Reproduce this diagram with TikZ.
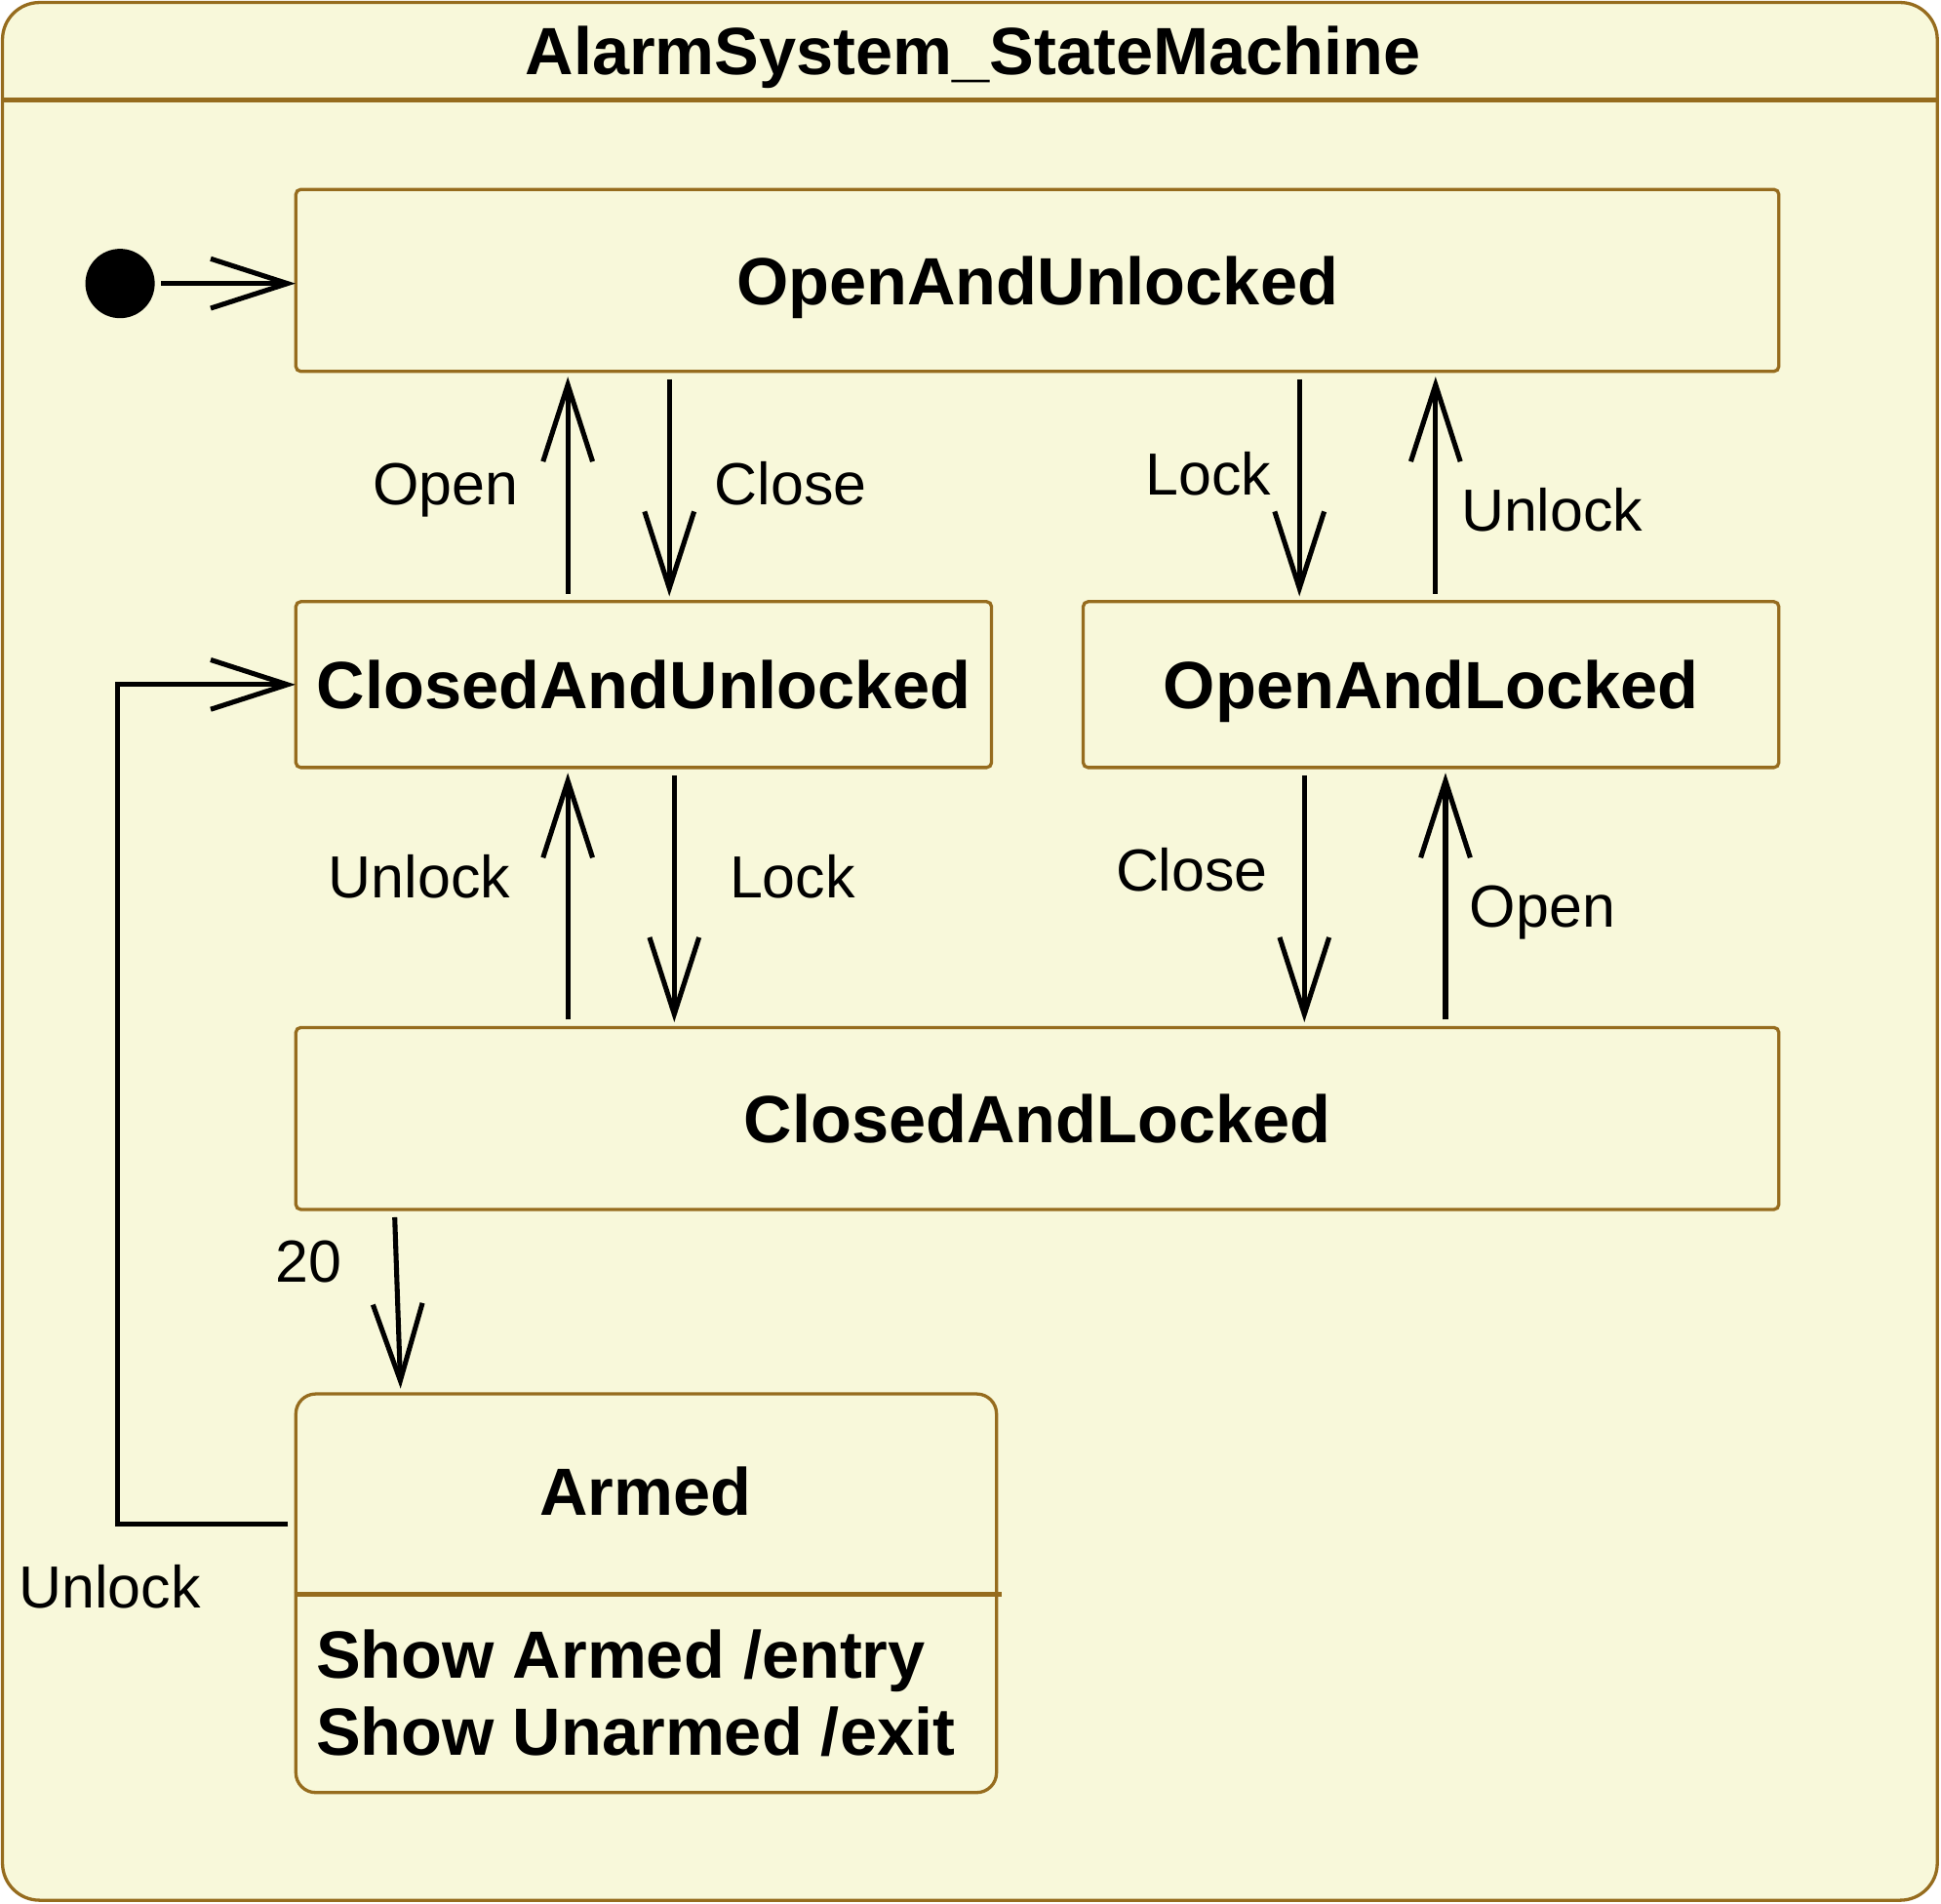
\documentclass[tikz,border=0pt]{standalone}
\usepackage{fontspec}
\setmainfont{Liberation Sans}
\usetikzlibrary{positioning,arrows.meta}
\definecolor{statefill}{RGB}{248,248,218}
\definecolor{stateline}{RGB}{150,108,30}
\tikzset{
  frame/.style = {rectangle, draw=stateline, fill=statefill,
                  line width=1.3pt, rounded corners=15pt},
  state/.style = {rectangle, draw=stateline, fill=statefill,
                  line width=1.3pt, rounded corners=2pt, inner sep=0pt,
                  font=\fontsize{27}{31}\selectfont\bfseries,
                  text height=19.4pt, text depth=0pt},
  title/.style = {font=\fontsize{27}{31}\selectfont\bfseries,
                  anchor=base, inner sep=0pt},
  tr/.style    = {-{Straight Barb[length=31pt,width=20pt]}, line width=2pt,
                  shorten <=2.5pt, shorten >=1.5pt},
  lbl/.style   = {font=\fontsize{24}{28}\selectfont, anchor=base west, inner sep=0pt}
}

\begin{document}
\begin{tikzpicture}[x=0.5pt, y=-0.5pt]
  \useasboundingbox (0,0) rectangle (1568,1538);
  % state machine frame
  \node[frame, minimum width=781.5pt, minimum height=766.5pt] (sm) at (783.5,768.5) {};
  \draw[stateline, line width=1.8pt] ([yshift=-40pt]sm.north west) -- ([yshift=-40pt]sm.north east);
  \node[title] (smname) at (786,60) {AlarmSystem\_StateMachine};

  % states
  \node[circle, fill=black, minimum size=28pt, inner sep=0pt] (init) at (97,229) {};
  \node[state, minimum width=599pt, minimum height=73.5pt] (oau) at (838,226.5) {OpenAndUnlocked};
  \node[state, minimum width=281pt, minimum height=67pt] (cau) at (520,553) {ClosedAndUnlocked};
  \node[state, minimum width=281pt, minimum height=67pt] (oal) at (1156,553) {OpenAndLocked};
  \node[state, minimum width=599pt, minimum height=73.5pt] (cal) at (838,903.5) {ClosedAndLocked};
  \node[state, rounded corners=8pt, minimum width=283pt, minimum height=161pt] (armed) at (522,1287) {};
  \node[title] (armedname) at (521.5,1224) {Armed};
  \draw[stateline, line width=1.8pt] ([yshift=-81.5pt]armed.north west) -- ([yshift=-81.5pt,xshift=1.5pt]armed.north east);
  \node[title, anchor=base west, align=left] (armedacts) at (255,1418)
    {Show Armed /entry\\Show Unarmed /exit};

  % transitions
  \draw[tr, shorten >=-0.5pt] (init) -- (oau.west |- init);
  \draw[tr] ([xshift=110.5pt]cau.north west) -- ([xshift=110.5pt]oau.south west);
  \draw[tr] ([xshift=151.5pt]oau.south west) -- ([xshift=151.5pt]cau.north west);
  \draw[tr] ([xshift=406pt]oau.south west) -- ([xshift=88pt]oal.north west);
  \draw[tr] ([xshift=143pt]oal.north west) -- ([xshift=461pt]oau.south west);
  \draw[tr] ([xshift=110.5pt]cal.north west) -- ([xshift=110.5pt]cau.south west);
  \draw[tr] ([xshift=153.5pt]cau.south west) -- ([xshift=153.5pt]cal.north west);
  \draw[tr] ([xshift=90pt]oal.south west) -- ([xshift=408pt]cal.north west);
  \draw[tr] ([xshift=465pt]cal.north west) -- ([xshift=147pt]oal.south west);
  \draw[tr] ([xshift=40.5pt]cal.south west) -- ([xshift=43pt]armed.north west);
  \draw[tr, shorten <=1pt, shorten >=-0.5pt] ([shift={(-1.5pt,28pt)}]armed.west) -- ++(-70pt,0) |- (cau.west);

  % labels
  \node[lbl] (lopen1)   at (301,408)  {Open};
  \node[lbl] (lclose1)  at (577,408)  {Close};
  \node[lbl] (llock1)   at (925,400)  {Lock};
  \node[lbl] (lunlock1) at (1180,429) {Unlock};
  \node[lbl] (lunlock2) at (265,725)  {Unlock};
  \node[lbl] (llock2)   at (589,725)  {Lock};
  \node[lbl] (lclose2)  at (901,720)  {Close};
  \node[lbl] (lopen2)   at (1187,749) {Open};
  \node[lbl] (ltimer)   at (222,1036) {20};
  \node[lbl] (lunlock3) at (15,1299)  {Unlock};
\end{tikzpicture}
\end{document}
